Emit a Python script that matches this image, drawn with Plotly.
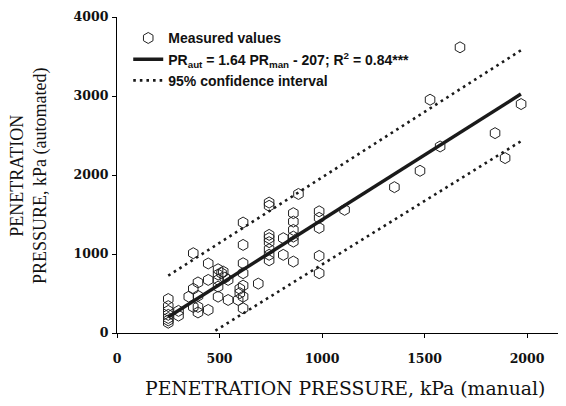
import plotly.graph_objects as go

# Measured values (manual vs automated penetration pressure, kPa)
manual = [250, 250, 250, 250, 250, 250, 250,
          300, 300,
          350,
          372, 372, 372,
          395, 395, 395, 395,
          445, 445, 445,
          493, 493, 493, 493, 493,
          510, 518, 526,
          542, 542,
          591, 599, 599,
          615, 615, 615, 615, 615, 615, 615,
          689,
          742, 742, 742, 742, 742, 742, 742, 742,
          811, 811,
          860, 860, 860, 860, 860, 860,
          885,
          986, 986, 986, 986, 986,
          1110, 1353, 1478, 1527, 1576, 1673, 1844, 1893, 1971]
automated = [430, 340, 280, 230, 190, 160, 130,
             280, 220,
             460,
             1010, 560, 330,
             640, 470, 330, 260,
             880, 672, 292,
             807, 740, 672, 587, 460,
             757, 777, 700,
             672, 418,
             418, 560, 505,
             1398, 1115, 883, 757, 600, 460, 313,
             625,
             1651, 1610, 1242, 1200, 1150, 1060, 990, 920,
             1200, 989,
             1517, 1410, 1305, 1220, 1157, 904,
             1760,
             1540, 1458, 1330, 976, 757,
             1559, 1846, 2053, 2953, 2361, 3616, 2530, 2214, 2898]

# Regression line and 95% confidence limits (end points)
fit_x = [250, 1970]
fit_y = [203, 3024]
upper_x = [250, 1970]
upper_y = [726, 3578]
lower_x = [480, 1970]
lower_y = [30, 2427]

x_ticks = [0, 500, 1000, 1500, 2000]
y_ticks = [0, 1000, 2000, 3000, 4000]

fig = go.Figure()
fig.add_trace(go.Scatter(
    x=manual, y=automated, mode="markers",
    name="<b>Measured values</b>",
    marker=dict(symbol="hexagon-open", size=11, color="#222222",
                line=dict(width=1, color="#222222")),
))
fig.add_trace(go.Scatter(
    x=fit_x, y=fit_y, mode="lines",
    name="<b>PR<sub>aut</sub> = 1.64 PR<sub>man</sub> - 207; R<sup>2</sup> = 0.84***</b>",
    line=dict(color="#1a1a1a", width=3.5),
))
fig.add_trace(go.Scatter(
    x=upper_x, y=upper_y, mode="lines",
    name="<b>95% confidence interval</b>",
    line=dict(color="#1a1a1a", width=2.6, dash="2.6px,4px"),
))
fig.add_trace(go.Scatter(
    x=lower_x, y=lower_y, mode="lines", showlegend=False,
    line=dict(color="#1a1a1a", width=2.6, dash="2.6px,4px"),
))

axis_common = dict(
    showline=True, linecolor="black", linewidth=1.2,
    ticks="outside", ticklen=4, tickcolor="black", tickwidth=1.2,
    showgrid=False, zeroline=False,
    tickfont=dict(family="DejaVu Serif", size=12.5, color="#111111", weight="bold"),
)

# The page adds an 8px body margin, so the figure is sized to fill the rest.
fig.update_layout(
    width=558, height=398,
    margin=dict(l=109, r=0, t=9, b=73),
    paper_bgcolor="white", plot_bgcolor="white",
    xaxis=dict(range=[0, 2190], tickvals=x_ticks, ticklabelstandoff=10, **axis_common),
    yaxis=dict(range=[0, 4000], tickvals=y_ticks, ticklabelstandoff=1, **axis_common),
    legend=dict(
        x=0.025, y=0.983, xanchor="left", yanchor="top",
        font=dict(family="Liberation Sans", size=14, color="#111111"),
        bgcolor="rgba(0,0,0,0)", tracegroupgap=0, itemwidth=30,
    ),
    annotations=[
        dict(text="PENETRATION PRESSURE, kPa (manual)", xref="paper", yref="paper",
             x=0.507, y=-0.177, xanchor="center", yanchor="middle", showarrow=False,
             font=dict(family="DejaVu Serif", size=18.8, color="#111111")),
        dict(text="PENETRATION<br>PRESSURE, kPa (automated)", xref="paper", yref="paper",
             x=-0.196, y=0.5, xanchor="center", yanchor="middle", showarrow=False,
             textangle=-90,
             font=dict(family="Liberation Serif", size=18, color="#111111")),
    ],
)

fig.write_html("out.html")
